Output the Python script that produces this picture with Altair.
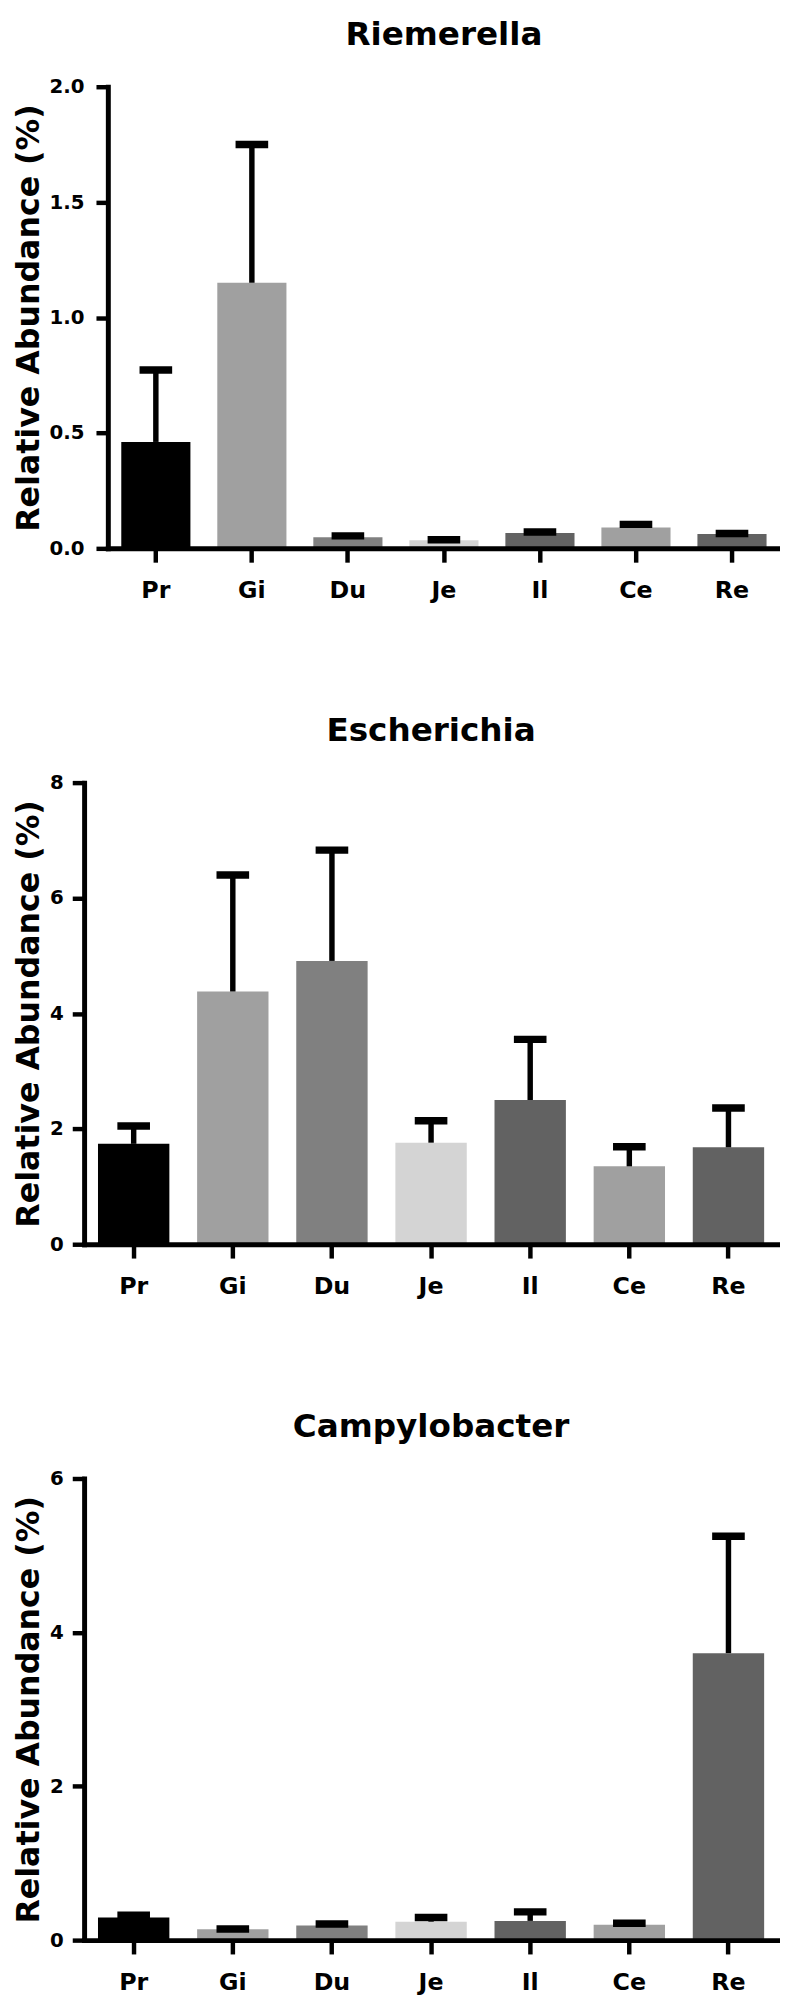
import altair as alt
import pandas as pd

sites = ["Pr", "Gi", "Du", "Je", "Il", "Ce", "Re"]
bar_colors = ["#000000", "#a0a0a0", "#808080", "#d4d4d4", "#626262", "#a0a0a0", "#626262"]

riem_mean = [0.461, 1.151, 0.048, 0.035, 0.066, 0.090, 0.062]
riem_upper = [0.773, 1.750, 0.054, 0.037, 0.071, 0.104, 0.064]

esch_mean = [1.74, 4.38, 4.91, 1.76, 2.50, 1.35, 1.68]
esch_upper = [2.05, 6.40, 6.83, 2.14, 3.55, 1.69, 2.36]

camp_mean = [0.295, 0.14, 0.19, 0.24, 0.25, 0.20, 3.73]
camp_upper = [0.325, 0.145, 0.21, 0.295, 0.367, 0.22, 5.25]

FONT = "DejaVu Sans"
HEIGHT = 467


def panel(title, mean, upper, ymax, ticks, fmt, width, left, lab_pad):
    df = pd.DataFrame({"site": sites, "mean": mean, "upper": upper})
    xax = alt.Axis(
        title=None, labelAngle=0, labelFont=FONT, labelFontSize=24, labelFontWeight="bold",
        labelColor="black", labelPadding=17, labelBaseline="top",
        tickSize=14, tickWidth=4.5, tickColor="black",
        domainColor="black", domainWidth=5, domainCap="square", zindex=1,
    )
    x = alt.X("site:N", sort=sites, axis=xax,
              scale=alt.Scale(range=[left, width], paddingInner=0.28, paddingOuter=0.14))
    yax = alt.Axis(
        title="Relative Abundance (%)", titleFont=FONT, titleFontSize=32, titleFontWeight="bold",
        titleColor="black", titlePadding=4, offset=-left,
        values=ticks, format=fmt, labelFont=FONT, labelFontSize=20, labelFontWeight="bold",
        labelColor="black", labelPadding=lab_pad,
        tickSize=12, tickWidth=4.5, tickColor="black",
        domainColor="black", domainWidth=5, domainCap="square", grid=False, zindex=1,
    )
    yscale = alt.Scale(domain=[0, ymax], nice=False, zero=True)
    bars = alt.Chart(df).mark_bar(opacity=1).encode(
        x=x,
        y=alt.Y("mean:Q", scale=yscale, axis=yax),
        color=alt.Color("site:N", scale=alt.Scale(domain=sites, range=bar_colors), legend=None),
    )
    stem = alt.Chart(df).mark_rule(color="black", strokeWidth=5.5, opacity=1).encode(
        x=x,
        y=alt.Y("mean:Q", scale=yscale, axis=yax),
        y2="upper:Q",
    )
    cap = alt.Chart(df).mark_tick(color="black", thickness=7.5, size=33, orient="horizontal",
                                  opacity=1).encode(
        x=x,
        y=alt.Y("upper:Q", scale=yscale, axis=yax),
    )
    head = alt.Chart(pd.DataFrame({"name": [title]})).mark_text(
        font=FONT, fontSize=33, fontWeight="bold", color="black",
        align="center", baseline="alphabetic",
    ).encode(
        text="name:N",
        x=alt.value((left + width) / 2),
        y=alt.value(-42),
    )
    return alt.layer(bars, stem, cap, head).properties(width=width, height=HEIGHT)


p1 = panel("Riemerella", riem_mean, riem_upper, 2.0, [0, 0.5, 1.0, 1.5, 2.0], ".1f", 704, 24, 12)
p2 = panel("Escherichia", esch_mean, esch_upper, 8, [0, 2, 4, 6, 8], "d", 702, 0, 9)
p3 = panel("Campylobacter", camp_mean, camp_upper, 6, [0, 2, 4, 6], "d", 702, 0, 9)

chart = alt.vconcat(p1, p2, p3, spacing=114).properties(
    padding={"left": 4, "top": 0, "right": 0, "bottom": 0}).configure_view(stroke=None)

chart.save("out.html", embed_options={"renderer": "svg", "actions": False})
